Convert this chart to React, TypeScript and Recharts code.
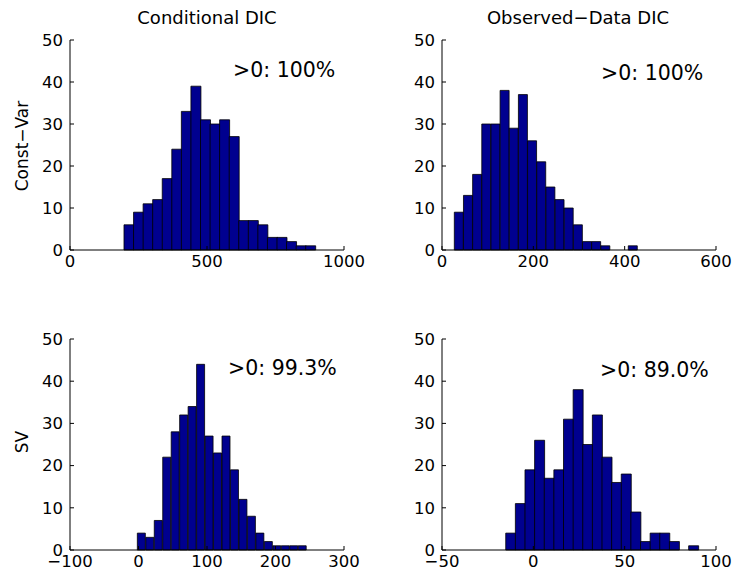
import React from "react";
import { BarChart, Bar, XAxis, YAxis } from "recharts";

// bin centres and counts
const condConstBins = [214.5, 249.4, 284.3, 319.2, 354.1, 389.0, 423.9, 458.8, 493.7, 528.6, 563.5, 598.4, 633.3, 668.2, 703.1, 738.0, 772.9, 807.8, 842.7, 877.6];
const condConstCounts = [6, 9, 11, 12, 17, 24, 33, 39, 31, 30, 31, 27, 7, 7, 6, 3, 3, 2, 1, 1];

const obsConstBins = [37.0, 57.05, 77.1, 97.15, 117.2, 137.25, 157.3, 177.35, 197.4, 217.45, 237.5, 257.55, 277.6, 297.65, 317.7, 337.75, 357.8, 377.85, 397.9, 417.95];
const obsConstCounts = [9, 13, 18, 30, 30, 38, 29, 37, 26, 21, 15, 12, 10, 6, 2, 2, 1, 0, 0, 1];

const condSvBins = [4.48, 16.84, 29.2, 41.56, 53.92, 66.28, 78.64, 91.0, 103.36, 115.72, 128.08, 140.44, 152.8, 165.16, 177.52, 189.88, 202.24, 214.6, 226.96, 239.32];
const condSvCounts = [4, 3, 7, 22, 28, 32, 34, 44, 27, 23, 27, 19, 12, 8, 4, 2, 1, 1, 1, 1];

const obsSvBins = [-12.47, -7.2, -1.93, 3.34, 8.61, 13.88, 19.15, 24.42, 29.69, 34.96, 40.23, 45.5, 50.77, 56.04, 61.31, 66.58, 71.85, 77.12, 82.39, 87.66];
const obsSvCounts = [4, 11, 19, 26, 17, 19, 31, 38, 25, 32, 22, 16, 18, 9, 2, 4, 4, 2, 0, 1];

const yTicks = [0, 10, 20, 30, 40, 50];
const condConstTicks = [0, 500, 1000];
const obsConstTicks = [0, 200, 400, 600];
const condSvTicks = [-100, 0, 100, 200, 300];
const obsSvTicks = [-50, 0, 50, 100];

const FONT = "DejaVu Sans";
const tickStyle = { fontSize: 16.5, fill: "#000", fontFamily: FONT };

function toRows(bins: number[], counts: number[]) {
  return bins.map((b, i) => ({ x: b, n: counts[i] }));
}

function Hist({
  bins,
  counts,
  ticks,
  left,
  top,
  height,
  right,
}: {
  bins: number[];
  counts: number[];
  ticks: number[];
  left: number;
  top: number;
  height: number;
  right: number;
}) {
  const data = toRows(bins, counts);
  return (
    <div style={{ position: "absolute", left, top }}>
      <BarChart
        width={344 + right}
        height={height}
        data={data}
        margin={{ top: 40, right, left: 30, bottom: 10 }}
        barCategoryGap={0}
        barGap={0}
      >
        <XAxis
          dataKey="x"
          type="number"
          domain={[ticks[0], ticks[ticks.length - 1]]}
          ticks={ticks}
          interval={0}
          allowDataOverflow
          height={30}
          tickSize={-4}
          tickMargin={9}
          stroke="#000"
          tick={tickStyle}
          tickFormatter={(v: number) => String(v).replace("-", "\u2212")}
        />
        <YAxis
          type="number"
          domain={[0, 50]}
          ticks={yTicks}
          interval={0}
          width={40}
          tickSize={-4}
          tickMargin={11}
          stroke="#000"
          tick={tickStyle}
        />
        <Bar
          dataKey="n"
          fill="#00008f"
          stroke="#000"
          strokeWidth={0.8}
          isAnimationActive={false}
        />
      </BarChart>
    </div>
  );
}

export default function App() {
  return (
    <div
      style={{
        position: "fixed",
        left: 0,
        top: 0,
        width: 733,
        height: 581,
        overflow: "hidden",
        background: "#fff",
        fontFamily: FONT,
      }}
    >
      <Hist bins={condConstBins} counts={condConstCounts} ticks={condConstTicks} left={0} top={0} height={290} right={40} />
      <Hist bins={obsConstBins} counts={obsConstCounts} ticks={obsConstTicks} left={372} top={0} height={290} right={17} />
      <Hist bins={condSvBins} counts={condSvCounts} ticks={condSvTicks} left={0} top={299} height={291} right={40} />
      <Hist bins={obsSvBins} counts={obsSvCounts} ticks={obsSvTicks} left={372} top={299} height={291} right={17} />

      <svg
        width={733}
        height={581}
        style={{ position: "absolute", left: 0, top: 0, pointerEvents: "none" }}
        fontFamily={FONT}
      >
        <text x={207} y={24} fontSize={18} textAnchor="middle" fill="#000">Conditional DIC</text>
        <text x={578} y={24} fontSize={18} textAnchor="middle" fill="#000">Observed{"\u2212"}Data DIC</text>
        <text transform="translate(28,146) rotate(-90)" fontSize={17} textAnchor="middle" fill="#000">Const{"\u2212"}Var</text>
        <text transform="translate(28,442) rotate(-90)" fontSize={17} textAnchor="middle" fill="#000">SV</text>

        <text x={233} y={77} fontSize={20.5} fill="#000">&gt;0: 100%</text>
        <text x={601} y={80} fontSize={20.5} fill="#000">&gt;0: 100%</text>
        <text x={228} y={375} fontSize={20.5} fill="#000">&gt;0: 99.3%</text>
        <text x={600} y={377} fontSize={20.5} fill="#000">&gt;0: 89.0%</text>
      </svg>
    </div>
  );
}
